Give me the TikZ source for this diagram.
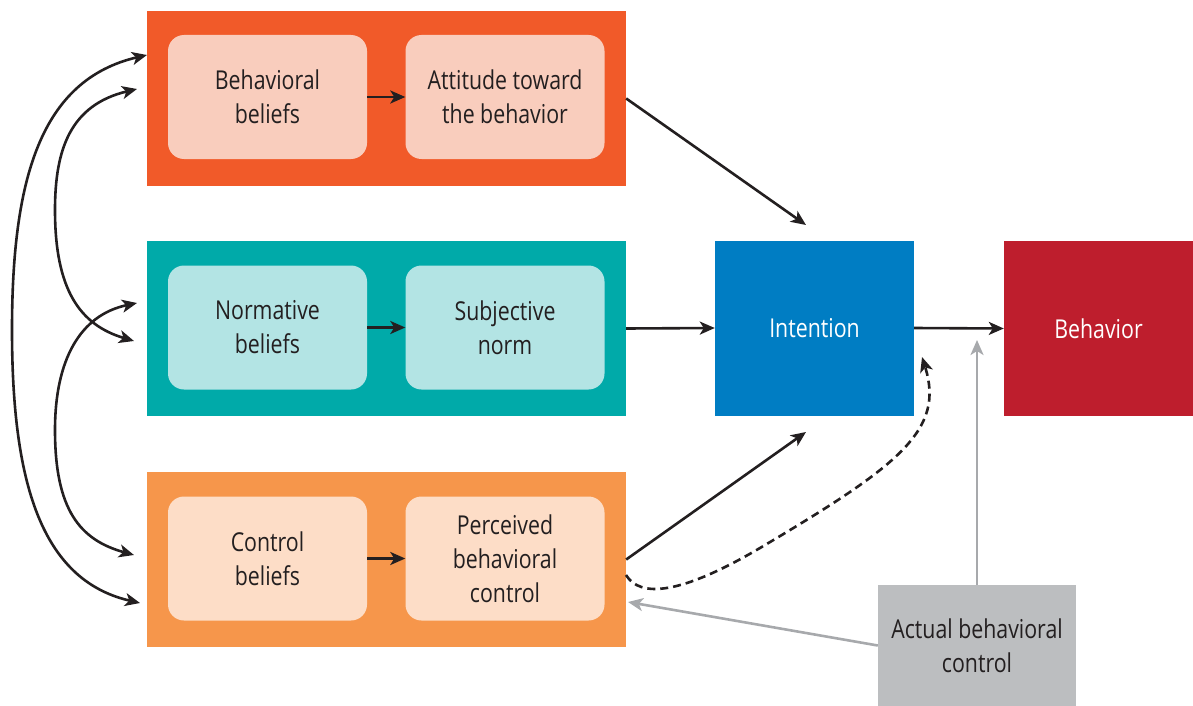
\documentclass[tikz,border=0pt]{standalone}
\usepackage{fontspec}
\setmainfont{Open Sans}[FakeStretch=0.82]
\usepackage{xcolor}
\definecolor{attorange}{HTML}{F15A29}
\definecolor{attlight}{HTML}{F9CDBD}
\definecolor{normteal}{HTML}{00AAA9}
\definecolor{normlight}{HTML}{B3E4E4}
\definecolor{ctrlorange}{HTML}{F6964B}
\definecolor{ctrllight}{HTML}{FDDDC7}
\definecolor{intblue}{HTML}{007DC3}
\definecolor{behred}{HTML}{BE1E2D}
\definecolor{actgray}{HTML}{BCBEC0}
\definecolor{arrgray}{HTML}{A7A9AC}
\definecolor{ink}{HTML}{231F20}
\usetikzlibrary{arrows.meta}

\begin{document}
\begin{tikzpicture}[x=1pt,y=-1pt,
    font=\fontsize{26}{34}\selectfont,
    outerbox/.style={minimum width=479pt,minimum height=175pt,inner sep=0pt},
    innerbox/.style={rounded corners=16pt,minimum width=199pt,minimum height=124pt,
        align=center,inner sep=0pt,text=ink},
    bigbox/.style={minimum width=199pt,minimum height=175pt,align=center,inner sep=0pt},
    link/.style={draw=ink,line width=2.6pt,-{Stealth[length=15pt,width=13pt,inset=4pt]}},
    bilink/.style={draw=ink,line width=2.6pt,
        {Stealth[length=15pt,width=13pt,inset=4pt]}-{Stealth[length=15pt,width=13pt,inset=4pt]}},
    glink/.style={draw=arrgray,line width=2.6pt,-{Stealth[length=15pt,width=13pt,inset=4pt]}}]
    \useasboundingbox (0,0) rectangle (1193,706);

    % Coloured bands
    \node[outerbox,fill=attorange] (attband) at (386.5,98.5) {};
    \node[outerbox,fill=normteal] (normband) at (386.5,328.5) {};
    \node[outerbox,fill=ctrlorange] (ctrlband) at (386.5,559.5) {};

    % Beliefs and their results
    \node[innerbox,fill=attlight] (behbel) at (267.5,97) {Behavioral\\beliefs};
    \node[innerbox,fill=attlight] (attitude) at (505,97) {Attitude toward\\the behavior};
    \node[innerbox,fill=normlight] (normbel) at (267.5,327.5) {Normative\\beliefs};
    \node[innerbox,fill=normlight] (subnorm) at (505,327.5) {Subjective\\norm};
    \node[innerbox,fill=ctrllight] (ctrlbel) at (267.5,558.5) {Control\\beliefs};
    \node[innerbox,fill=ctrllight] (pbc) at (505,558.5) {Perceived\\behavioral\\control};

    % Intention, behavior, actual control
    \node[bigbox,fill=intblue,text=white] (intention) at (814.5,328) {Intention};
    \node[bigbox,minimum width=189pt,fill=behred,text=white] (behavior) at (1098.5,328.5) {Behavior};
    \node[bigbox,minimum width=198pt,minimum height=121pt,fill=actgray,text=ink] (actual) at (977,645.5) {Actual behavioral\\control};

    % Free ends
    \coordinate (intup) at (806,225);
    \coordinate (intdown) at (806,432);
    \coordinate (intdash) at (922,357);
    \coordinate (pbcdash) at (626,575);
    \coordinate (behin) at (977,340);
    \coordinate (pbcin) at (628,602);
    \coordinate (atttop) at (147,55);
    \coordinate (attlow) at (137,89);
    \coordinate (normtop) at (137,303);
    \coordinate (normlow) at (134,341);
    \coordinate (ctrltop) at (134,555);
    \coordinate (ctrllow) at (140,603);

    % Arrows inside the bands
    \draw[link] (behbel) -- (attitude);
    \draw[link] (normbel) -- (subnorm);
    \draw[link] (ctrlbel) -- (pbc);

    % Arrows to intention and behavior
    \draw[link] (attband.east) -- (intup);
    \draw[link] (normband.east) -- (intention.west);
    \draw[link] (ctrlband.east) -- (intdown);
    \draw[link,dash pattern=on 8pt off 5pt] (pbcdash) .. controls (640,598) and (680,595) .. (760,548)
        .. controls (900,465) and (945,430) .. (intdash);
    \draw[link] (intention.east) -- (behavior.west);
    \draw[glink] (actual.north) -- (behin);
    \draw[glink] (actual.west) -- (pbcin);

    % Correlations between beliefs
    \draw[bilink] (atttop) .. controls (40,80) and (12,180) .. (12,330)
        .. controls (12,480) and (40,580) .. (ctrllow);
    \draw[bilink] (attlow) .. controls (70,105) and (55,150) .. (55,210)
        .. controls (55,290) and (80,325) .. (normlow);
    \draw[bilink] (normtop) .. controls (80,315) and (55,360) .. (55,430)
        .. controls (55,510) and (80,540) .. (ctrltop);
\end{tikzpicture}
\end{document}
